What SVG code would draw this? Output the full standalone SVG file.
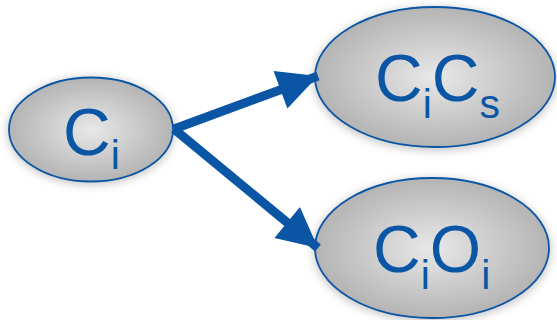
<svg xmlns="http://www.w3.org/2000/svg" width="557" height="320" viewBox="0 0 557 320">
  <defs>
    <radialGradient id="bubble" cx="50%" cy="50%" r="50%">
      <stop offset="0" stop-color="#e8e8e8"/>
      <stop offset="1" stop-color="#b4b4b4"/>
    </radialGradient>
    <filter id="halo" x="-20%" y="-20%" width="140%" height="140%">
      <feGaussianBlur stdDeviation="4"/>
    </filter>
    <marker id="head" viewBox="0 0 10 10" refX="10" refY="5" markerWidth="44" markerHeight="40" markerUnits="userSpaceOnUse" orient="auto">
      <path d="M0,0 L10,5 L0,10 Z" fill="#0a56a4"/>
    </marker>
    <style>
      .node ellipse.shape { fill: url(#bubble); stroke: #0a56a4; stroke-width: 1.8; }
      .node ellipse.glow { fill: #c8c8c8; filter: url(#halo); }
      .label { font-family: "Liberation Sans", Arial, sans-serif; fill: #0a56a4; font-size: 66px; }
      .sub { font-size: 41px; }
      .edge { stroke: #0a56a4; stroke-width: 9; fill: none; marker-end: url(#head); }
    </style>
  </defs>

  <!-- nodes -->
  <g id="node-ci" class="node">
    <ellipse class="glow" cx="91" cy="131" rx="84" ry="54"/>
    <ellipse class="shape" cx="91" cy="129.5" rx="82" ry="52"/>
    <text class="label" x="63" y="155">C<tspan class="sub" dy="14">i</tspan></text>
  </g>

  <g id="node-cics" class="node">
    <ellipse class="glow" cx="435" cy="79" rx="122" ry="72"/>
    <ellipse class="shape" cx="435" cy="77" rx="120" ry="70"/>
    <text class="label" x="375" y="101">C<tspan class="sub" dy="17">i</tspan><tspan dy="-17">C</tspan><tspan class="sub" dy="17">s</tspan></text>
  </g>

  <g id="node-cioi" class="node">
    <ellipse class="glow" cx="432" cy="250" rx="119" ry="72"/>
    <ellipse class="shape" cx="432" cy="248" rx="117" ry="70"/>
    <text class="label" x="373" y="272">C<tspan class="sub" dy="17">i</tspan><tspan dy="-17">O</tspan><tspan class="sub" dy="17">i</tspan></text>
  </g>

  <!-- connectors -->
  <g id="edges">
    <line class="edge" x1="174" y1="129" x2="318" y2="76"/>
    <line class="edge" x1="174" y1="129" x2="318" y2="248"/>
  </g>
</svg>
